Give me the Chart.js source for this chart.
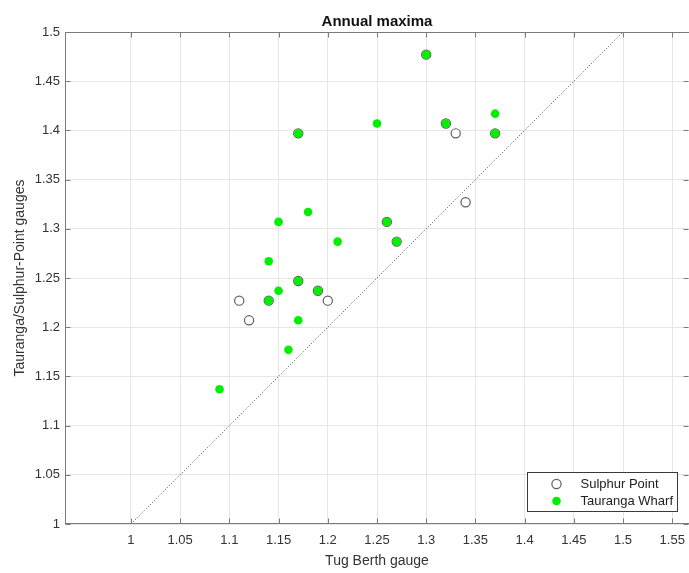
<!DOCTYPE html>
<html>
<head>
<meta charset="utf-8">
<title>Annual maxima</title>
<script src="https://cdn.jsdelivr.net/npm/chart.js@4.4.0/dist/chart.umd.min.js"></script>
<style>
    html, body { margin: 0; padding: 0; background: #fff; overflow: hidden; }
    #wrap { width: 689px; height: 573px; position: relative; }
</style>
</head>
<body>
<div id="wrap"><canvas id="maximaChart"></canvas></div>
<script>
// ===== DATA =====
var sulphurTug    = [1.11, 1.12, 1.14, 1.17, 1.17, 1.19, 1.20, 1.26, 1.27, 1.30, 1.32, 1.33, 1.34, 1.37];
var sulphurPoint  = [1.227, 1.207, 1.227, 1.397, 1.247, 1.237, 1.227, 1.307, 1.287, 1.477, 1.407, 1.397, 1.327, 1.397];

var taurangaTug   = [1.09, 1.14, 1.14, 1.15, 1.15, 1.16, 1.17, 1.17, 1.17, 1.18, 1.19, 1.21, 1.25, 1.26, 1.27, 1.30, 1.32, 1.37, 1.37];
var taurangaWharf = [1.137, 1.267, 1.227, 1.307, 1.237, 1.177, 1.397, 1.247, 1.207, 1.317, 1.237, 1.287, 1.407, 1.307, 1.287, 1.477, 1.407, 1.417, 1.397];

var equalLine = [1, 1.5];

var xTicks      = [1, 1.05, 1.1, 1.15, 1.2, 1.25, 1.3, 1.35, 1.4, 1.45, 1.5, 1.55];
var xTickLabels = ['1', '1.05', '1.1', '1.15', '1.2', '1.25', '1.3', '1.35', '1.4', '1.45', '1.5', '1.55'];
var yTicks      = [1, 1.05, 1.1, 1.15, 1.2, 1.25, 1.3, 1.35, 1.4, 1.45, 1.5];
var yTickLabels = ['1', '1.05', '1.1', '1.15', '1.2', '1.25', '1.3', '1.35', '1.4', '1.45', '1.5'];
var xRange = [0.933, 1.567];
var yRange = [1, 1.5];

var FONT = "'Liberation Sans', Arial, sans-serif";

function toPoints(xs, ys) {
    return xs.map(function(x, i) { return { x: x, y: ys[i] }; });
}

// ===== BOX + INWARD TICKS =====
var axesBox = {
    id: 'axesBox',
    afterDatasetsDraw: function(chart) {
        var ctx = chart.ctx;
        var a = chart.chartArea;
        var L = Math.round(a.left) + 0.5, R = Math.round(a.right) + 0.5;
        var T = Math.round(a.top) + 0.5, B = Math.round(a.bottom) - 0.5;
        var len = 5;
        ctx.save();
        ctx.strokeStyle = '#7a7a7a';
        ctx.lineWidth = 1;
        ctx.strokeRect(L, T, R - L, B - T);
        ctx.beginPath();
        xTicks.forEach(function(v) {
            var px = Math.round(chart.scales.x.getPixelForValue(v)) + 0.5;
            ctx.moveTo(px, B); ctx.lineTo(px, B - len);
            ctx.moveTo(px, T); ctx.lineTo(px, T + len);
        });
        yTicks.forEach(function(v) {
            var py = Math.round(chart.scales.y.getPixelForValue(v)) + 0.5;
            ctx.moveTo(L, py); ctx.lineTo(L + len, py);
            ctx.moveTo(R - 1, py); ctx.lineTo(R - 1 - len, py);
        });
        ctx.stroke();
        ctx.restore();
    }
};

// ===== LEGEND INSIDE AXES =====
var boxLegend = {
    id: 'boxLegend',
    afterDraw: function(chart) {
        var ctx = chart.ctx;
        var a = chart.chartArea;
        var x = Math.round(a.right) - 162 + 0.5, y = Math.round(a.bottom) - 52 + 0.5;
        var w = 150, h = 39;
        ctx.save();
        ctx.fillStyle = '#ffffff';
        ctx.fillRect(x, y, w, h);
        ctx.strokeStyle = '#3a3a3a';
        ctx.lineWidth = 1;
        ctx.strokeRect(x, y, w, h);

        var items = chart.data.datasets.filter(function(d) { return d.type !== 'line'; });
        items.forEach(function(d, i) {
            var my = y + 11.5 + i * 17;
            ctx.beginPath();
            ctx.arc(x + 29, my, d.pointRadius, 0, Math.PI * 2);
            ctx.fillStyle = d.pointBackgroundColor;
            ctx.fill();
            if (d.pointBorderWidth > 0) {
                ctx.strokeStyle = d.pointBorderColor;
                ctx.lineWidth = d.pointBorderWidth;
                ctx.stroke();
            }
            ctx.fillStyle = '#222';
            ctx.font = '13px ' + FONT;
            ctx.textBaseline = 'middle';
            ctx.fillText(d.label, x + 53, my + 0.5);
        });
        ctx.restore();
    }
};

var ctx = document.getElementById('maximaChart').getContext('2d');
new Chart(ctx, {
    type: 'scatter',
    data: {
        datasets: [{
            label: 'Sulphur Point',
            data: toPoints(sulphurTug, sulphurPoint),
            pointRadius: 4.6,
            pointBorderWidth: 1.2,
            pointBorderColor: '#5e5e5e',
            pointBackgroundColor: '#ffffff',
            order: 1
        }, {
            label: 'Tauranga Wharf',
            data: toPoints(taurangaTug, taurangaWharf),
            pointRadius: 4.3,
            pointBorderWidth: 0,
            pointBorderColor: '#00f000',
            pointBackgroundColor: '#00f000',
            order: 0
        }, {
            type: 'line',
            label: '1:1',
            data: toPoints(equalLine, equalLine),
            borderColor: '#444444',
            borderWidth: 1,
            borderDash: [1, 2],
            pointRadius: 0,
            fill: false,
            order: 2
        }]
    },
    options: {
        responsive: true,
        maintainAspectRatio: false,
        animation: false,
        layout: { padding: 0, autoPadding: false },
        plugins: {
            legend: { display: false },
            tooltip: { enabled: false },
            title: {
                display: true,
                fullSize: false,
                text: 'Annual maxima',
                color: '#111',
                font: { family: FONT, size: 15, weight: 'bold' },
                padding: { top: 12.5, bottom: 1.5 }
            }
        },
        scales: {
            x: {
                type: 'linear',
                min: xRange[0],
                max: xRange[1],
                afterBuildTicks: function(scale) {
                    scale.ticks = xTicks.map(function(v) { return { value: v }; });
                },
                afterFit: function(scale) {
                    scale.height = 49;
                    scale.paddingLeft = 0;
                    scale.paddingRight = 0;
                },
                ticks: {
                    autoSkip: false,
                    maxRotation: 0,
                    padding: 9,
                    color: '#333',
                    font: { family: FONT, size: 13 },
                    callback: function(v) { return xTickLabels[xTicks.indexOf(v)]; }
                },
                grid: { color: '#e6e6e6', drawTicks: false },
                border: { display: false },
                title: {
                    display: true,
                    text: 'Tug Berth gauge',
                    color: '#333',
                    font: { family: FONT, size: 14 },
                    padding: { top: 0, bottom: 3.6 }
                }
            },
            y: {
                type: 'linear',
                min: yRange[0],
                max: yRange[1],
                afterBuildTicks: function(scale) {
                    scale.ticks = yTicks.map(function(v) { return { value: v }; });
                },
                afterFit: function(scale) {
                    scale.width = 65;
                    scale.paddingTop = 0;
                    scale.paddingBottom = 0;
                },
                ticks: {
                    autoSkip: false,
                    padding: 5,
                    color: '#333',
                    font: { family: FONT, size: 13 },
                    callback: function(v) { return yTickLabels[yTicks.indexOf(v)]; }
                },
                grid: { color: '#e6e6e6', drawTicks: false },
                border: { display: false },
                title: {
                    display: true,
                    text: 'Tauranga/Sulphur-Point gauges',
                    color: '#333',
                    font: { family: FONT, size: 14 },
                    padding: { top: 11.6, bottom: 0 }
                }
            }
        }
    },
    plugins: [axesBox, boxLegend]
});
</script>
</body>
</html>
